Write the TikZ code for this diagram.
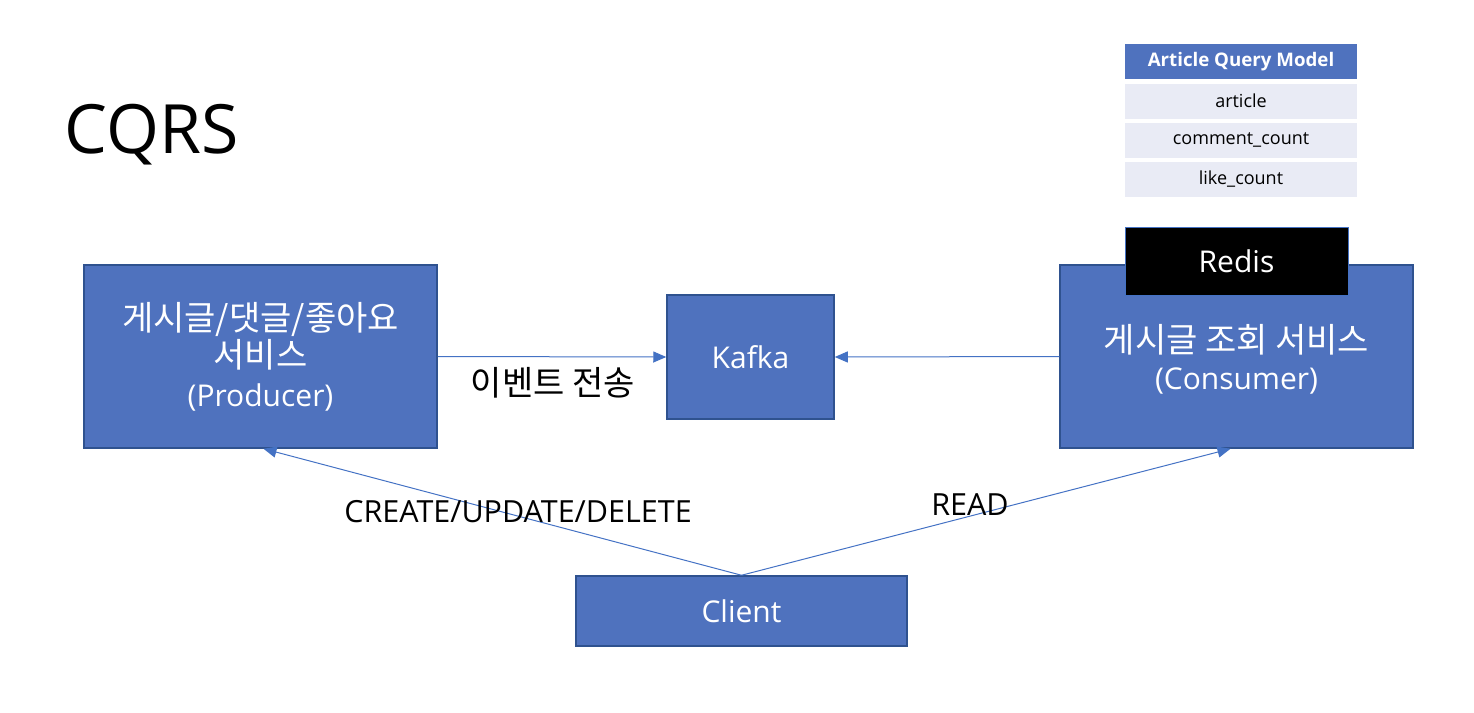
\documentclass[tikz,border=0pt]{standalone}
\usepackage{fontspec}
\setmainfont{Open Sans}
\newfontfamily\kr{Noto Sans CJK KR}
\usetikzlibrary{arrows.meta}
\definecolor{boxblue}{RGB}{79,114,190}
\definecolor{boxedge}{RGB}{47,82,143}
\definecolor{rowgray}{RGB}{233,235,245}
\definecolor{lineblue}{RGB}{68,114,196}
\tikzset{every picture/.style={line width=1pt}}
\newcommand{\krtext}[1]{{\kr\fontsize{34}{37}\selectfont #1}}

\begin{document}
\begin{tikzpicture}[x=1pt,y=1pt,yscale=-1,xscale=1]

     \tikzstyle{service} = [fill = boxblue,
						draw = boxedge,
						line width = 1.5pt,
						text = white,
						inner sep = 0pt,
						align = center,
						font = \fontsize{30}{37}\selectfont
						]
     \tikzstyle{row} = [fill = rowgray,
						minimum width = 232pt,
						minimum height = 35pt,
						inner sep = 0pt,
						font = \fontsize{18}{22}\selectfont
						]
     \tikzstyle{label} = [inner sep = 0pt, font = \fontsize{30.5}{35}\selectfont]
     \tikzstyle{arrow} = [lineblue, line width=1pt, -{Triangle[length=13pt,width=11pt]}]

\useasboundingbox (0,0) rectangle (1474,712);

\node [anchor=west, inner sep=0pt, font=\fontsize{68}{74}\selectfont] (title) at (64,135) {CQRS};

% query model table
\node [row, fill=boxblue, text=white, font=\bfseries\fontsize{18.7}{22}\selectfont] (qhead) at (1241,61.5) {Article Query Model};
\node [row] (qrow1) at (1241,101) {article};
\node [row] (qrow2) at (1241,140) {comment\_count};
\node [row] (qrow3) at (1241,179.5) {like\_count};

\node [service, minimum width=353pt, minimum height=183pt] (prod) at (260.5,356.5)
  {\krtext{게시글/댓글/좋아요}\\\krtext{서비스}\\[2pt](Producer)};
\node [service, minimum width=167pt, minimum height=124pt] (kafka) at (750.5,357) {Kafka};
\node [service, minimum width=353pt, minimum height=183pt] (cons) at (1236.5,356.5)
  {\\[-4pt]\krtext{게시글 조회 서비스}\\(Consumer)};
\node [service, fill=black, draw=lineblue, line width=1pt, minimum width=223pt, minimum height=68pt] (redis) at (1236.5,261) {Redis};
\node [service, minimum width=331pt, minimum height=70pt] (client) at (741.5,611) {Client};

\draw[arrow] (prod.east) -- (kafka.west);
\draw[arrow] (cons.west) -- (kafka.east);
\draw[arrow] (client.north) -- ([xshift=3pt]prod.south);
\draw[arrow] (client.north) -- ([xshift=-6pt]cons.south);

\node [label, font=\kr\fontsize{34}{37}\selectfont] (send) at (553,383) {이벤트 전송};
\node [label] (write) at (518,512) {CREATE/UPDATE/DELETE};
\node [label] (read) at (970,505) {READ};

\end{tikzpicture}
\end{document}
